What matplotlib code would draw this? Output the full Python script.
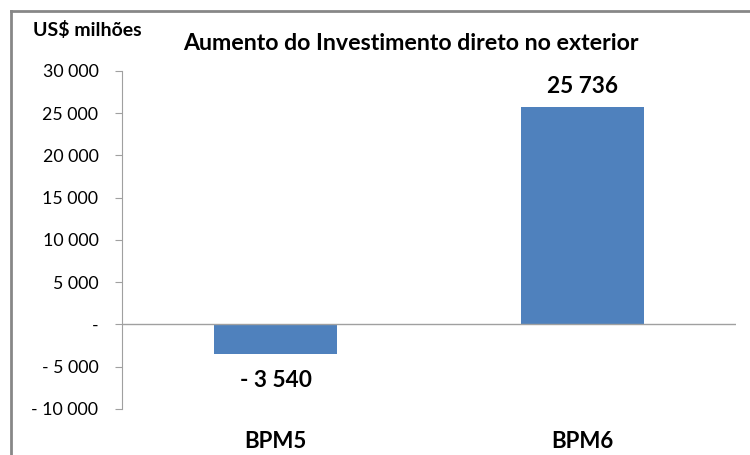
import matplotlib.pyplot as plt
from matplotlib.lines import Line2D
from matplotlib.ticker import FuncFormatter

categories = ["BPM5", "BPM6"]
values = [-3540, 25736]
value_labels = ["- 3 540", "25 736"]
yticks = [-10000, -5000, 0, 5000, 10000, 15000, 20000, 25000, 30000]

plt.rcParams['font.family'] = ['Lato', 'DejaVu Sans']

bar_col = '#4F81BD'
axis_col = '#A0A0A0'
frame_col = '#878787'


def fmt(v, pos=None):
    v = int(round(v))
    if v == 0:
        return "-"
    s = f"{abs(v):,}".replace(",", " ")
    return ("- " + s) if v < 0 else s


fig = plt.figure(figsize=(7.5, 4.55), dpi=100)
ax = fig.add_axes([0.1627, 0.1011, 0.8186, 0.7429])

x = range(len(categories))
ax.bar(x, values, width=0.4, color=bar_col, zorder=2)

ax.set_xlim(-0.5, 1.5)
ax.set_ylim(-10000, 30000)
ax.set_yticks(yticks)
ax.yaxis.set_major_formatter(FuncFormatter(fmt))
ax.tick_params(axis='y', direction='out', length=5, color=axis_col,
               labelsize=12.8, labelcolor='black', pad=12)
ax.set_xticks([])

for side in ['top', 'right', 'bottom']:
    ax.spines[side].set_visible(False)
ax.spines['left'].set_color(axis_col)
ax.axhline(0, color=axis_col, linewidth=1, zorder=3)

# data labels
for i, (v, lab) in enumerate(zip(values, value_labels)):
    if v >= 0:
        ax.annotate(lab, (i, v), xytext=(0, 7), textcoords='offset points',
                    ha='center', va='bottom', fontsize=16.3, fontweight='bold')
    else:
        ax.annotate(lab, (i, v), xytext=(0, -11), textcoords='offset points',
                    ha='center', va='top', fontsize=16.3, fontweight='bold')

# category labels below the plot area
for i, c in enumerate(categories):
    ax.text(i, -13800, c, ha='center', va='center', fontsize=16,
            fontweight='bold')

fig.text(411 / 750, 1 - 44 / 455, "Aumento do Investimento direto no exterior",
         ha='center', va='center', fontsize=16.7, fontweight='bold')
fig.text(33 / 750, 1 - 30 / 455, "US$ milhões", ha='left', va='center',
         fontsize=14, fontweight='bold')

# outer frame (left and top edges)
fig.add_artist(Line2D([11 / 750, 11 / 750], [0, 1 - 11 / 455],
                      color=frame_col, linewidth=2, transform=fig.transFigure))
fig.add_artist(Line2D([11 / 750, 1], [1 - 11 / 455, 1 - 11 / 455],
                      color=frame_col, linewidth=2, transform=fig.transFigure))

fig.savefig("out.png", dpi=100)
